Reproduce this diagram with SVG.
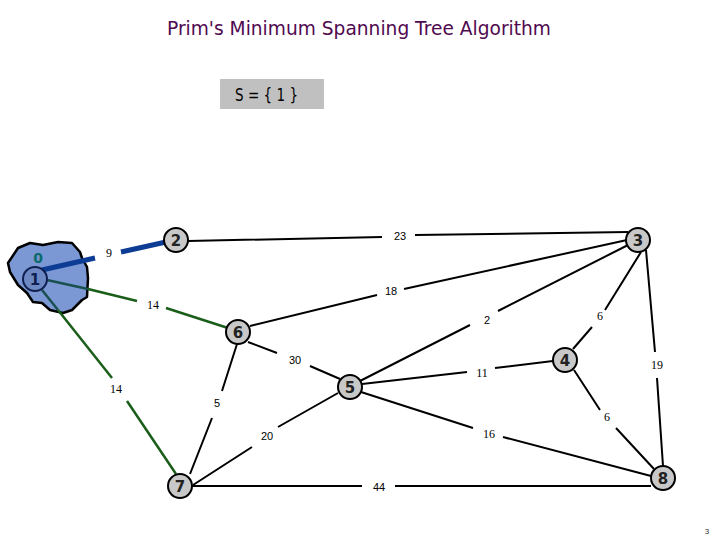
<svg xmlns="http://www.w3.org/2000/svg" width="720" height="540" viewBox="0 0 720 540">
<style>
.e{stroke:#000;stroke-width:2;fill:none;stroke-linecap:butt}
.g{stroke:#1a5e1a;stroke-width:2.5;fill:none}
.gt{stroke:#1a5050;stroke-width:2.5;fill:none}
.b{stroke:#0c3c94;stroke-width:5;fill:none}
.n circle{fill:#c8c8c8;stroke:#000;stroke-width:2}
.n text{font-family:"DejaVu Sans",sans-serif;font-weight:bold;font-size:15px;text-anchor:middle;fill:#222}
.ws{font-family:"Liberation Sans",sans-serif;font-size:11px;text-anchor:middle;fill:#000}
.wt{font-family:"Liberation Serif",serif;font-size:12px;text-anchor:middle;fill:#000}
</style>
<rect width="720" height="540" fill="#fff"/>
<text x="359" y="35" font-family="'DejaVu Sans',sans-serif" font-size="20" fill="#500a50" text-anchor="middle" textLength="384" lengthAdjust="spacingAndGlyphs">Prim's Minimum Spanning Tree Algorithm</text>
<rect x="220" y="79" width="104" height="30" fill="#c0c0c0"/>
<text x="235" y="101" font-family="'DejaVu Sans',sans-serif" font-size="18" fill="#000" textLength="63" lengthAdjust="spacingAndGlyphs">S = { 1 }</text>
<path id="blob" d="M18,248 L30,243 L43,245 L58,242 L72,243 L80,252 L82,258 L87,267 L88,278 L87,297 L82,300 L72,310 L63,313 L50,310 L42,303 L33,302 L27,293 L18,285 L10,272 L8,263 Z" fill="#7b98d4" stroke="#000" stroke-width="2.5" stroke-linejoin="round"/>
<g id="connectors">
<path class="b" d="M42,270 L95,258 M121,252 L166,242"/>
<path class="gt" d="M47,280 L88,289"/>
<path class="g" d="M88,289 L137,301 M166,308 L228,328"/>
<path class="gt" d="M42,290 L58,310"/>
<path class="g" d="M58,310 L112,378 M127,401 L176,474"/>
<path class="e" d="M188,241 L382,237 M415,235 L628,232"/>
<path class="e" d="M250,326 L377,295 M404,289 L627,240"/>
<path class="e" d="M360,381 L470,325 M498,311 L630,244"/>
<path class="e" d="M573,349 L592,327 M605,310 L641,252"/>
<path class="e" d="M646,250 L655,352 M657,378 L663,466"/>
<path class="e" d="M248,342 L277,353 M310,366 L340,379"/>
<path class="e" d="M237,344 L222,391 M212,418 L190,474"/>
<path class="e" d="M338,393 L278,427 M252,447 L193,485"/>
<path class="e" d="M192,486 L362,486 M395,486 L651,486"/>
<path class="e" d="M362,384 L467,372 M495,368 L553,361"/>
<path class="e" d="M361,392 L473,428 M503,437 L651,476"/>
<path class="e" d="M574,370 L600,410 M616,428 L654,469"/>
<text class="wt" x="109" y="257">9</text>
<text class="wt" x="153" y="309">14</text>
<text class="wt" x="116" y="393">14</text>
<text class="ws" x="400" y="240">23</text>
<text class="ws" x="391" y="295">18</text>
<text class="ws" x="487" y="324">2</text>
<text class="wt" x="600" y="320">6</text>
<text class="wt" x="657" y="369">19</text>
<text class="ws" x="295" y="364">30</text>
<text class="ws" x="217" y="407">5</text>
<text class="ws" x="267" y="440">20</text>
<text class="ws" x="379" y="491">44</text>
<text class="wt" x="482" y="377">11</text>
<text class="wt" x="489" y="438">16</text>
<text class="wt" x="607" y="421">6</text>
</g>
<g id="node1" class="n"><circle cx="35" cy="279" r="12" style="fill:#6d88c2;stroke:#0f1f4f"/><text x="35" y="285" style="fill:#0f1f4f">1</text></g>
<g id="node2" class="n"><circle cx="176" cy="240" r="12"/><text x="176" y="246">2</text></g>
<g id="node3" class="n"><circle cx="638" cy="240" r="12"/><text x="638" y="246">3</text></g>
<g id="node4" class="n"><circle cx="565" cy="360" r="12"/><text x="565" y="366">4</text></g>
<g id="node5" class="n"><circle cx="350" cy="387" r="12"/><text x="350" y="393">5</text></g>
<g id="node6" class="n"><circle cx="238" cy="332" r="12"/><text x="238" y="338">6</text></g>
<g id="node7" class="n"><circle cx="180" cy="486" r="12"/><text x="180" y="492">7</text></g>
<g id="node8" class="n"><circle cx="663" cy="478" r="12"/><text x="663" y="484">8</text></g>
<text x="38" y="263" font-family="'DejaVu Sans',sans-serif" font-weight="bold" font-size="14" fill="#0b6b6b" text-anchor="middle">0</text>
<text x="707" y="534" font-family="'Liberation Sans',sans-serif" font-size="8" fill="#333" text-anchor="middle">3</text>
</svg>
